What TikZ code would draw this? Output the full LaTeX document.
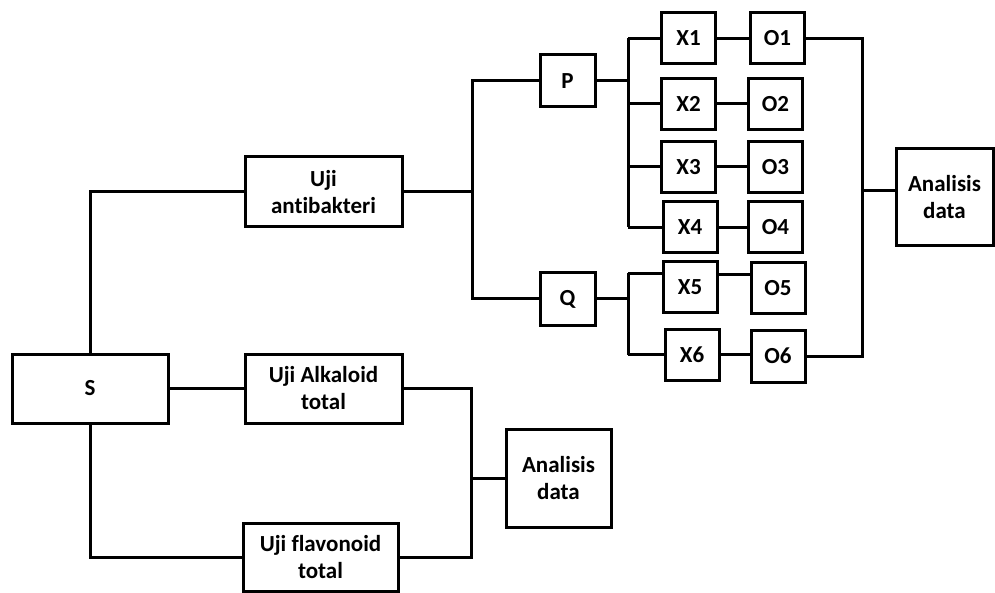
\documentclass[tikz,border=0pt]{standalone}
\usepackage{fontspec}
\setmainfont[Ligatures={NoCommon,NoRare,NoContextual}]{Carlito}
\begin{document}
\begin{tikzpicture}[x=1pt,y=-1pt,
  conn/.style={draw, line width=3pt},
  box/.style={draw, line width=3pt, inner sep=0pt, align=center,
    font=\fontsize{23}{27}\selectfont\bfseries},
  sq/.style={box, minimum width=54pt, minimum height=51pt}]
\useasboundingbox[fill=white] (0,0) rectangle (995,593);
% left part
\node[box, minimum width=156pt, minimum height=69pt] (S) at (90,388.5) {S};
\node[box, minimum width=157pt, minimum height=70pt] (UA) at (323.5,192) {Uji\\antibakteri};
\node[box, minimum width=157pt, minimum height=69pt] (UK) at (323.5,388.5) {Uji Alkaloid\\total};
\node[box, minimum width=155pt, minimum height=68pt] (UF) at (320.5,557) {Uji flavonoid\\total};
\node[box, minimum width=105pt, minimum height=98pt] (AD1) at (558.5,478) {Analisis\\data};
% right part
\node[sq, minimum width=55pt, minimum height=52pt] (P) at (567.5,81) {P};
\node[sq, minimum width=55pt, minimum height=52pt] (Q) at (567.5,299) {Q};
\node[sq] (X1) at (688.5,38.5) {X1};
\node[sq] (X2) at (688.5,104) {X2};
\node[sq] (X3) at (688.5,167) {X3};
\node[sq] (X4) at (690,227.5) {X4};
\node[sq] (X5) at (690,287.5) {X5};
\node[sq] (X6) at (692,354.5) {X6};
\node[sq] (O1) at (777.5,38.5) {O1};
\node[sq] (O2) at (775.5,104) {O2};
\node[sq] (O3) at (775.5,167) {O3};
\node[sq] (O4) at (775.5,227.5) {O4};
\node[sq] (O5) at (778,288.5) {O5};
\node[sq, minimum height=52pt] (O6) at (778,356) {O6};
\node[box, minimum width=97pt, minimum height=97pt] (AD2) at (944.5,197.5) {Analisis\\data};
% bus coordinates
\coordinate (busK) at (471,478);
\coordinate (busA) at (472,192);
\coordinate (busP) at (628,81);
\coordinate (busQ) at (628,299);
\coordinate (busO) at (862,191);
\coordinate (x5in) at ([yshift=14pt]X5.west);
\coordinate (x5out) at ([yshift=13pt]X5.east);
% left connectors
\draw[conn] (S.north) |- (UA.west);
\draw[conn] (S.east) -- (UK.west);
\draw[conn] (S.south) |- (UF.west);
\draw[conn] (UK.east) -| (busK) |- (UF.east);
\draw[conn] (busK) -- (busK -| AD1.west);
% antibakteri branch
\draw[conn] (UA.east) -- (busA);
\draw[conn] (P.west) -| (busA) |- (Q.west);
\draw[conn] (P.east) -- (busP);
\draw[conn] (busP |- X1.west) -- (busP |- X4.west);
\draw[conn] (busP |- X1.west) -- (X1.west);
\draw[conn] (busP |- X2.west) -- (X2.west);
\draw[conn] (busP |- X3.west) -- (X3.west);
\draw[conn] (busP |- X4.west) -- (X4.west);
\draw[conn] (Q.east) -- (busQ);
\draw[conn] (busQ |- x5in) -- (busQ |- X6.west);
\draw[conn] (busQ |- x5in) -- (x5in);
\draw[conn] (busQ |- X6.west) -- (X6.west);
\draw[conn] (X1.east) -- (O1.west);
\draw[conn] (X2.east) -- (O2.west);
\draw[conn] (X3.east) -- (O3.west);
\draw[conn] (X4.east) -- (O4.west);
\draw[conn] (x5out) -- (x5out -| O5.west);
\draw[conn] (X6.east) -- (X6.east -| O6.west);
\draw[conn] (O1.east) -| (busO) |- (O6.east);
\draw[conn] (busO) -- (busO -| AD2.west);
\end{tikzpicture}
\end{document}
